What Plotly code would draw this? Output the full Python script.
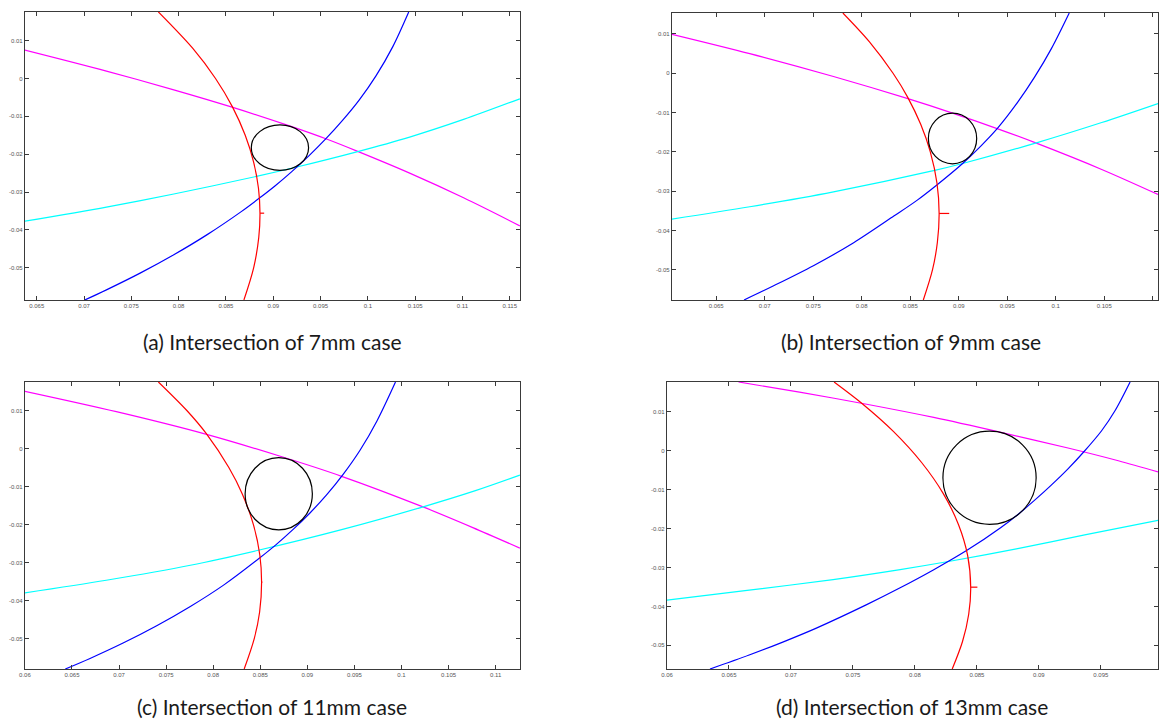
import plotly.graph_objects as go

W, H = 1159, 720

# ---- data: hyperbola branches (red, blue, magenta, cyan) and error circle per case ----
# (a) 7mm
a_red_x = [0.07785, 0.08148, 0.0839, 0.08569, 0.08704, 0.08792, 0.08844, 0.0886, 0.08847, 0.08793, 0.0869]
a_red_y = [0.0176, 0.008, 0.0, -0.0075, -0.015, -0.022, -0.029, -0.0356, -0.042, -0.05, -0.0585]
a_blue_x = [0.07006, 0.07237, 0.07593, 0.07949, 0.08306, 0.08662, 0.08847, 0.09018, 0.09196, 0.09374,
            0.09552, 0.0973, 0.09908, 0.10086, 0.10264, 0.10432]
a_blue_y = [-0.05852, -0.05582, -0.0514, -0.04655, -0.04117, -0.03516, -0.03172, -0.02838, -0.02459, -0.02049,
            -0.01603, -0.01113, -0.0057, 0.0007, 0.00842, 0.01756]
a_mag_x = [0.06375, 0.07237, 0.07949, 0.08573, 0.09196, 0.0957, 0.09873, 0.10442, 0.11012, 0.11607]
a_mag_y = [0.0075, 0.00195, -0.00299, -0.00763, -0.01273, -0.01606, -0.01906, -0.025, -0.03151, -0.03892]
a_cyan_x = [0.06375, 0.07237, 0.07949, 0.08822, 0.09249, 0.09873, 0.10442, 0.11012, 0.11607]
a_cyan_y = [-0.03769, -0.03395, -0.03051, -0.02586, -0.02337, -0.01943, -0.01547, -0.01081, -0.00536]

# (b) 9mm
b_red_x = [0.07806, 0.0808, 0.08323, 0.08476, 0.08608, 0.08707, 0.08776, 0.08798, 0.0878, 0.0873, 0.08635]
b_red_y = [0.01534, 0.008, 0.0, -0.00619, -0.013, -0.02, -0.028, -0.03568, -0.043, -0.05, -0.05771]
b_blue_x = [0.06787, 0.07087, 0.07502, 0.07917, 0.08331, 0.08573, 0.08781, 0.0904, 0.0923, 0.09403,
            0.0961, 0.09783, 0.09955, 0.10139]
b_blue_y = [-0.05771, -0.05415, -0.04898, -0.04314, -0.03636, -0.03229, -0.02831, -0.02297, -0.01847, -0.0139,
            -0.00729, -0.00093, 0.00627, 0.01534]
b_mag_x = [0.06044, 0.06846, 0.07709, 0.08476, 0.08936, 0.09403, 0.098, 0.10474, 0.11054]
b_mag_y = [0.00992, 0.005, -0.00083, -0.00647, -0.01014, -0.01414, -0.01779, -0.02448, -0.03085]
b_cyan_x = [0.06044, 0.06846, 0.07709, 0.08763, 0.0904, 0.098, 0.10474, 0.11054]
b_cyan_y = [-0.03712, -0.03398, -0.03017, -0.02466, -0.02297, -0.01771, -0.01254, -0.00771]

# (c) 11mm
c_red_x = [0.07418, 0.0772, 0.07929, 0.08166, 0.0831, 0.08427, 0.08495, 0.08514, 0.08493, 0.08436, 0.08329]
c_red_y = [0.0175, 0.01, 0.00385, -0.005, -0.012, -0.02, -0.028, -0.03517, -0.043, -0.05, -0.058]
c_blue_x = [0.06429, 0.06686, 0.07043, 0.074, 0.07757, 0.08114, 0.08489, 0.08668, 0.08846, 0.09025,
            0.09204, 0.09382, 0.09561, 0.09739, 0.09936]
c_blue_y = [-0.058, -0.05529, -0.05118, -0.04663, -0.04156, -0.03587, -0.02887, -0.02528, -0.02135, -0.01702,
            -0.0122, -0.00674, -0.00039, 0.00726, 0.0175]
c_mag_x = [0.06, 0.06971, 0.07929, 0.08704, 0.09364, 0.10221, 0.10757, 0.11257]
c_mag_y = [0.01505, 0.00969, 0.00372, -0.00198, -0.00731, -0.01529, -0.0208, -0.0262]
c_cyan_x = [0.06, 0.06864, 0.07757, 0.08479, 0.09364, 0.10221, 0.10793, 0.11257]
c_cyan_y = [-0.03797, -0.03465, -0.03071, -0.02677, -0.02135, -0.0154, -0.01102, -0.007]

# (d) 13mm
d_red_x = [0.07348, 0.07578, 0.07826, 0.08054, 0.08229, 0.08352, 0.08426, 0.0845, 0.08434, 0.08384, 0.08301]
d_red_y = [0.01769, 0.01205, 0.005, -0.003, -0.011, -0.019, -0.027, -0.03504, -0.042, -0.049, -0.05607]
d_blue_x = [0.06347, 0.06663, 0.06934, 0.07205, 0.07611, 0.07881, 0.08152, 0.08423, 0.08694, 0.08829,
            0.08964, 0.091, 0.09235, 0.09365, 0.09506, 0.09614, 0.09736]
d_blue_y = [-0.05607, -0.05248, -0.04915, -0.04556, -0.03953, -0.03521, -0.03056, -0.02551, -0.0197, -0.01641,
            -0.01274, -0.0088, -0.00462, -0.00017, 0.00516, 0.01029, 0.01769]
d_mag_x = [0.06577, 0.07069, 0.07611, 0.08152, 0.08694, 0.09235, 0.09641, 0.09961]
d_mag_y = [0.01769, 0.01508, 0.01197, 0.00858, 0.00474, 0.00072, -0.00256, -0.00543]
d_cyan_x = [0.06, 0.06663, 0.0734, 0.07881, 0.08282, 0.08829, 0.0937, 0.09961]
d_cyan_y = [-0.03838, -0.03581, -0.03308, -0.03051, -0.02838, -0.02513, -0.02162, -0.01786]

# error circles: centre and semi-axes (data units)
circle_cx = [0.09071, 0.08936, 0.08696, 0.08602]
circle_cy = [-0.01827, -0.01661, -0.0119, -0.00692]
circle_rx = [0.003027, 0.00249, 0.00357, 0.00376]
circle_ry = [0.0060, 0.00644, 0.00949, 0.01197]

# short red marker at the vertex of the red branch
vertex_x0 = [0.08861, 0.08798, 0.08514, 0.0845]
vertex_x1 = [0.08904, 0.08902, 0.08522, 0.08504]
vertex_y = [-0.03557, -0.03568, -0.03517, -0.03504]

# axis limits
x_ranges = [[0.06375, 0.11607], [0.06044, 0.11054], [0.06, 0.11257], [0.06, 0.09961]]
y_ranges = [[-0.0585, 0.01756], [-0.05771, 0.01534], [-0.058, 0.0175], [-0.05607, 0.01769]]

# tick values and labels
x_ticks = [
    [0.065, 0.07, 0.075, 0.08, 0.085, 0.09, 0.095, 0.1, 0.105, 0.11, 0.115],
    [0.065, 0.07, 0.075, 0.08, 0.085, 0.09, 0.095, 0.1, 0.105, 0.11],
    [0.06, 0.065, 0.07, 0.075, 0.08, 0.085, 0.09, 0.095, 0.1, 0.105, 0.11],
    [0.06, 0.065, 0.07, 0.075, 0.08, 0.085, 0.09, 0.095],
]
x_labels = [
    ["0.065", "0.07", "0.075", "0.08", "0.085", "0.09", "0.095", "0.1", "0.105", "0.11", "0.115"],
    ["0.065", "0.07", "0.075", "0.08", "0.085", "0.09", "0.095", "0.1", "0.105", "0.11"],
    ["0.06", "0.065", "0.07", "0.075", "0.08", "0.085", "0.09", "0.095", "0.1", "0.105", "0.11"],
    ["0.06", "0.065", "0.07", "0.075", "0.08", "0.085", "0.09", "0.095"],
]
y_ticks = [0.01, 0.0, -0.01, -0.02, -0.03, -0.04, -0.05]
y_labels = ["0.01", "0", "-0.01", "-0.02", "-0.03", "-0.04", "-0.05"]

captions = ["(a) Intersection of 7mm case", "(b) Intersection of 9mm case",
            "(c) Intersection of 11mm case", "(d) Intersection of 13mm case"]

panels = [
    (a_red_x, a_red_y, a_blue_x, a_blue_y, a_mag_x, a_mag_y, a_cyan_x, a_cyan_y),
    (b_red_x, b_red_y, b_blue_x, b_blue_y, b_mag_x, b_mag_y, b_cyan_x, b_cyan_y),
    (c_red_x, c_red_y, c_blue_x, c_blue_y, c_mag_x, c_mag_y, c_cyan_x, c_cyan_y),
    (d_red_x, d_red_y, d_blue_x, d_blue_y, d_mag_x, d_mag_y, d_cyan_x, d_cyan_y),
]

# plot-area boxes in pixels: left, right, top, bottom
boxes = [(19, 517, 12, 300), (670, 1159, 13, 300), (19, 517, 382, 669), (665, 1159, 382, 669)]
caption_pos = [(268, 341), (911, 341), (268, 706), (912, 706)]

fig = go.Figure()
line_w = 1.2
for i, p in enumerate(panels):
    xa = "x" if i == 0 else f"x{i+1}"
    ya = "y" if i == 0 else f"y{i+1}"
    for (xs, ys, col) in [(p[4], p[5], "#ff00ff"), (p[6], p[7], "#00ffff"),
                          (p[2], p[3], "#0000ff"), (p[0], p[1], "#ff0000")]:
        fig.add_trace(go.Scatter(x=xs, y=ys, mode="lines", xaxis=xa, yaxis=ya,
                                 line=dict(color=col, width=line_w, shape="spline", smoothing=0.9),
                                 hoverinfo="skip", showlegend=False))
    fig.add_trace(go.Scatter(x=[vertex_x0[i], vertex_x1[i]], y=[vertex_y[i], vertex_y[i]],
                             mode="lines", xaxis=xa, yaxis=ya,
                             line=dict(color="#ff0000", width=line_w),
                             hoverinfo="skip", showlegend=False))
    fig.add_shape(type="circle", xref=xa, yref=ya,
                  x0=circle_cx[i] - circle_rx[i], x1=circle_cx[i] + circle_rx[i],
                  y0=circle_cy[i] - circle_ry[i], y1=circle_cy[i] + circle_ry[i],
                  line=dict(color="black", width=line_w))

    l, r, t, b = boxes[i]
    axis_common = dict(showgrid=False, zeroline=False, showline=True, mirror="ticks",
                       linecolor="#3a3a3a", linewidth=1.2, ticks="inside", ticklen=4,
                       tickwidth=1, tickcolor="#3a3a3a",
                       tickfont=dict(family="Liberation Sans", size=6, color="#555555"))
    key_x = "xaxis" if i == 0 else f"xaxis{i+1}"
    key_y = "yaxis" if i == 0 else f"yaxis{i+1}"
    fig.layout[key_x] = dict(axis_common, domain=[l / W, min(r / W, 1.0)], range=x_ranges[i],
                             anchor=ya, tickvals=x_ticks[i], ticktext=x_labels[i])
    fig.layout[key_y] = dict(axis_common, domain=[1 - b / H, 1 - t / H], range=y_ranges[i],
                             anchor=xa, tickvals=y_ticks, ticktext=y_labels)

    cx, cy = caption_pos[i]
    fig.add_annotation(text=captions[i], xref="paper", yref="paper", x=cx / W, y=1 - cy / H,
                       showarrow=False, xanchor="center", yanchor="middle",
                       font=dict(family="Lato", size=21, color="#1a1a1a"))

fig.update_layout(width=W, height=H, margin=dict(l=0, r=0, t=0, b=0),
                  paper_bgcolor="white", plot_bgcolor="white")
fig.write_html("out.html")
